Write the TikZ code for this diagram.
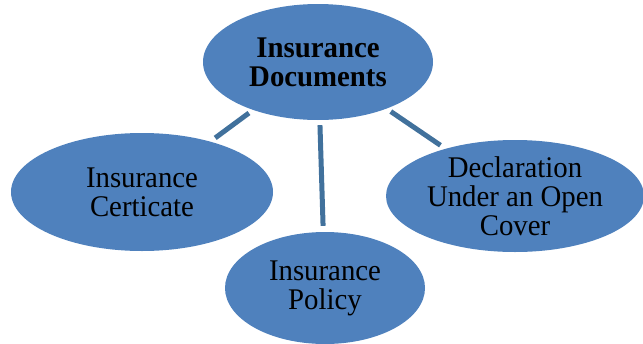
\documentclass[tikz,border=0pt]{standalone}
\usepackage{fontspec}
\setmainfont[FakeStretch=0.96]{Liberation Serif}
\usetikzlibrary{shapes.geometric}
\definecolor{docblue}{HTML}{4F81BD}
\definecolor{linkblue}{HTML}{41719C}

\begin{document}
\begin{tikzpicture}[x=1pt,y=-1pt,
   doc/.style={ellipse,fill=docblue,inner sep=0pt,align=center,
     font=\fontsize{30}{29}\selectfont},
   link/.style={draw=linkblue,line width=5pt,shorten <=5pt,shorten >=6pt}]
   \useasboundingbox (0,0) rectangle (643,343);
   \node[doc,minimum width=230pt,minimum height=116pt,font=\fontsize{30}{29}\selectfont\bfseries]
     (top) at (318,62) {Insurance\\Documents};
   \node[doc,minimum width=262pt,minimum height=118pt] (left) at (142,192) {Insurance\\Certicate};
   \node[doc,minimum width=200pt,minimum height=112pt] (bottom) at (325,288) {Insurance\\Policy};
   \node[doc,minimum width=258pt,minimum height=112pt] (right) at (515,196) {Declaration\\Under an Open\\Cover};
   \draw[link] (top) -- (left);
   \draw[link] (top) -- (bottom);
   \draw[link] (top) -- (right);
\end{tikzpicture}
\end{document}
